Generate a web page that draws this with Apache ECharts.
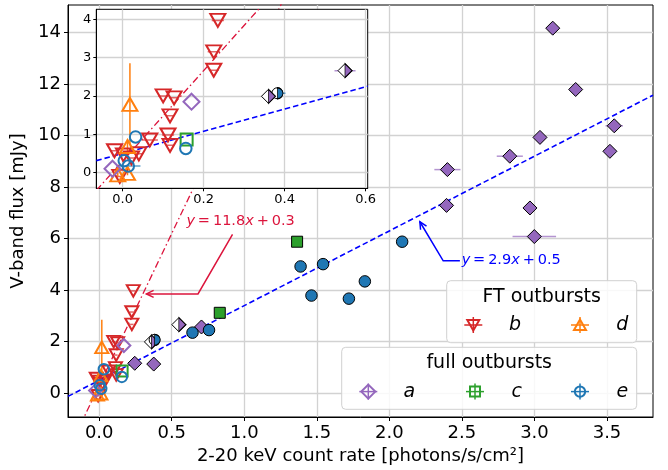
<!DOCTYPE html>
<html>
<head>
<meta charset="utf-8">
<script src="https://cdn.jsdelivr.net/npm/echarts@6/dist/echarts.min.js"></script>
<style>
html, body { margin: 0; padding: 0; background: #fff; }
#chart { width: 668px; height: 470px; }
</style>
</head>
<body>
<div id="chart"></div>
<script>
// Axis ticks
const mainXTicks = [0, 0.5, 1, 1.5, 2, 2.5, 3, 3.5];
const mainYTicks = [0, 2, 4, 6, 8, 10, 12, 14];
const insetXTicks = [0, 0.2, 0.4, 0.6];
const insetYTicks = [0, 1, 2, 3, 4];

// Each point: [count rate, V-band flux, x error, y error]
// FT outbursts
const outburstB = [
  [0.235, 3.97, 0.015, 0],
  [0.225, 3.15, 0.015, 0],
  [0.225, 2.67, 0.012, 0],
  [0.100, 2.00, 0.012, 0],
  [0.127, 1.95, 0.012, 0],
  [0.117, 1.48, 0.010, 0],
  [0.112, 0.98, 0.015, 0],
  [0.067, 0.85, 0.020, 0],
  [0.117, 0.71, 0.010, 0],
  [-0.020, 0.57, 0.010, 0],
  [0.002, 0.46, 0.010, 0],
  [0.040, 0.49, 0.010, 0],
  [0.022, 0.38, 0.010, 0],
  [-0.007, -0.10, 0.010, 0]
];
const outburstD = [
  [0.018, 1.78, 0, 1.07],
  [0.012, 0.68, 0, 0.12],
  [0.012, -0.02, 0, 0.05],
  [-0.012, -0.06, 0, 0.05]
];
// Full outbursts (open markers)
const outburstA = [[0.170, 1.85, 0, 0], [-0.025, 0.10, 0, 0]];
const outburstC = [[0.158, 0.86, 0, 0]];
const outburstE = [
  [0.032, 0.93, 0, 0],
  [0.156, 0.63, 0, 0],
  [0.004, 0.31, 0, 0],
  [0.014, 0.17, 0.03, 0]
];
// Full outbursts (filled markers)
const outburstAFilled = [
  [3.126, 14.17, 0, 0],
  [3.284, 11.79, 0, 0],
  [3.550, 10.38, 0.06, 0],
  [3.038, 9.93, 0, 0],
  [3.520, 9.39, 0, 0],
  [2.830, 9.20, 0.09, 0],
  [2.400, 8.68, 0.09, 0],
  [2.394, 7.29, 0, 0],
  [2.969, 7.19, 0.02, 0],
  [2.999, 6.08, 0.15, 0],
  [0.705, 2.57, 0, 0],
  [0.245, 1.16, 0, 0],
  [0.376, 1.13, 0, 0]
];
const outburstCFilled = [[1.364, 5.88, 0, 0], [0.831, 3.12, 0, 0]];
const outburstEFilled = [
  [0.643, 2.35, 0.01, 0],
  [0.757, 2.45, 0.01, 0],
  [1.388, 4.92, 0.03, 0],
  [1.543, 5.01, 0, 0],
  [1.463, 3.79, 0, 0],
  [1.721, 3.67, 0.02, 0],
  [1.831, 4.34, 0.03, 0],
  [2.088, 5.88, 0, 0]
];
// Half-filled markers
const outburstAHalf = [[0.549, 2.66, 0.026, 0], [0.360, 1.99, 0.01, 0]];
const outburstEHalf = [[0.382, 2.07, 0.02, 0]];

// Linear fits y = slope * x + intercept (FT, full)
const fitSlope = [11.8, 2.9];
const fitIntercept = [0.3, 0.5];

const FONT = 'DejaVu Sans';
const RED = '#d62728', ORANGE = '#ff7f0e', PURPLE = '#9467bd', GREEN = '#2ca02c', BLUE = '#1f77b4';
const CLEAR = 'rgba(0,0,0,0)';

const ranges = [
  { xMin: -0.215, xMax: 3.817, yMin: -0.925, yMax: 15.07 },
  { xMin: -0.065, xMax: 0.605, yMin: -0.41, yMax: 4.26 }
];

function fitLine(k, gi) {
  const r = ranges[gi];
  const pts = [r.xMin, r.xMax].map(x => [x, fitSlope[k] * x + fitIntercept[k]]);
  return {
    type: 'line', xAxisIndex: gi, yAxisIndex: gi, zlevel: gi, z: 3,
    data: pts, symbol: 'none', silent: true, clip: true, animation: false,
    lineStyle: k === 0
      ? { color: '#dc143c', width: 1.3, type: [7, 3, 1.5, 3] }
      : { color: '#0000ff', width: 1.6, type: [5.5, 3] }
  };
}

function errorBars(data, color, gi) {
  return {
    type: 'custom', xAxisIndex: gi, yAxisIndex: gi, zlevel: gi, z: 2,
    silent: true, clip: true, animation: false,
    encode: { x: 0, y: 1 },
    data: data,
    renderItem(params, api) {
      const x = api.value(0), y = api.value(1), ex = api.value(2), ey = api.value(3);
      const kids = [];
      if (ex > 0) {
        const a = api.coord([x - ex, y]), b = api.coord([x + ex, y]);
        kids.push({ type: 'line', shape: { x1: a[0], y1: a[1], x2: b[0], y2: b[1] },
          style: { stroke: color, lineWidth: 1.5, opacity: 0.7 } });
      }
      if (ey > 0) {
        const a = api.coord([x, y - ey]), b = api.coord([x, y + ey]);
        kids.push({ type: 'line', shape: { x1: a[0], y1: a[1], x2: b[0], y2: b[1] },
          style: { stroke: color, lineWidth: 1.5 } });
      }
      return { type: 'group', children: kids };
    }
  };
}

function markers(data, gi, opts) {
  return Object.assign({
    type: 'scatter', xAxisIndex: gi, yAxisIndex: gi, zlevel: gi, z: 4,
    data: data.map(p => [p[0], p[1]]), silent: true, animation: false, clip: true
  }, opts);
}

function openStyle(color) {
  return { color: CLEAR, borderColor: color, borderWidth: 2, opacity: 1 };
}
function filledStyle(color) {
  return { color: color, borderColor: '#000', borderWidth: 1, opacity: 1 };
}

const HALF_DIAMOND = 'path://M0,0L1,1L0,2Z';
const HALF_CIRCLE = 'path://M0,0A1,1,0,0,1,0,2Z';

function buildSeries(gi) {
  const big = gi === 1;
  const tri = big ? [15, 13] : [13, 11.5];
  const dia = big ? 16 : 13;
  const sq = big ? 12 : 11;
  const cir = big ? 11.5 : 10.5;
  const s = [];
  s.push(fitLine(0, gi), fitLine(1, gi));

  if (!big) {
    s.push(errorBars(outburstAFilled, PURPLE, gi));
    s.push(markers(outburstAFilled, gi, { symbol: 'diamond', symbolSize: 14, itemStyle: filledStyle(PURPLE) }));
    s.push(errorBars(outburstEFilled, BLUE, gi));
    s.push(markers(outburstEFilled, gi, { symbol: 'circle', symbolSize: 11.5, itemStyle: filledStyle(BLUE) }));
    s.push(markers(outburstCFilled, gi, { symbol: 'rect', symbolSize: 11, itemStyle: filledStyle(GREEN) }));
  }

  // half-filled markers: white left half, coloured right half
  s.push(errorBars(outburstAHalf, PURPLE, gi));
  s.push(markers(outburstAHalf, gi, { symbol: 'diamond', symbolSize: 14, itemStyle: filledStyle('#fff') }));
  s.push(markers(outburstAHalf, gi, { symbol: HALF_DIAMOND, symbolSize: [7, 14], symbolOffset: [3.5, 0], z: 5, itemStyle: filledStyle(PURPLE) }));
  s.push(errorBars(outburstEHalf, BLUE, gi));
  s.push(markers(outburstEHalf, gi, { symbol: 'circle', symbolSize: 11, itemStyle: filledStyle('#fff') }));
  s.push(markers(outburstEHalf, gi, { symbol: HALF_CIRCLE, symbolSize: [5.5, 11], symbolOffset: [2.75, 0], z: 5, itemStyle: filledStyle(BLUE) }));

  s.push(errorBars(outburstB, RED, gi));
  s.push(markers(outburstB, gi, { symbol: 'triangle', symbolRotate: 180, symbolSize: tri, itemStyle: openStyle(RED) }));
  s.push(errorBars(outburstD, ORANGE, gi));
  s.push(markers(outburstD, gi, { symbol: 'triangle', symbolSize: tri, itemStyle: openStyle(ORANGE) }));
  s.push(markers(outburstA, gi, { symbol: 'diamond', symbolSize: dia, itemStyle: openStyle(PURPLE) }));
  s.push(markers(outburstC, gi, { symbol: 'rect', symbolSize: sq, itemStyle: openStyle(GREEN) }));
  s.push(errorBars(outburstE, BLUE, gi));
  s.push(markers(outburstE, gi, { symbol: 'circle', symbolSize: cir, itemStyle: openStyle(BLUE) }));
  return s;
}

function valueAxis(gi, dim, ticks, fmt, opts) {
  const r = ranges[gi];
  const inset = gi === 1;
  return Object.assign({
    type: 'value', gridIndex: gi, zlevel: gi,
    min: dim === 'x' ? r.xMin : r.yMin,
    max: dim === 'x' ? r.xMax : r.yMax,
    axisLine: { show: true, onZero: false, lineStyle: { color: '#000', width: 1 } },
    axisTick: { show: true, inside: false, length: inset ? 3 : 4, customValues: ticks,
      lineStyle: { color: '#000', width: 1 } },
    axisLabel: { customValues: ticks, formatter: fmt, color: '#000', fontFamily: FONT,
      fontSize: inset ? 13 : 18, margin: inset ? 5 : 7 },
    splitLine: { show: true, lineStyle: { color: '#d2d2d2', width: 1.3 } }
  }, opts);
}

const chart = echarts.init(document.getElementById('chart'), null, { renderer: 'canvas' });

const option = {
  backgroundColor: '#fff',
  animation: false,
  grid: [
    { left: 68, top: 5, right: 15, bottom: 50, show: true, borderColor: '#000', borderWidth: 1, backgroundColor: '#fff', containLabel: false },
    { left: 96.3, top: 9.3, right: 300.3, bottom: 281.7, show: true, borderColor: '#000', borderWidth: 1, backgroundColor: '#fff', zlevel: 1, z: 0, containLabel: false }
  ],
  xAxis: [
    valueAxis(0, 'x', mainXTicks, v => v.toFixed(1), {
      name: '2-20 keV count rate [photons/s/cm²]', nameLocation: 'middle', nameGap: 30,
      nameTextStyle: { fontFamily: FONT, fontSize: 18, color: '#000' }
    }),
    valueAxis(1, 'x', insetXTicks, v => v.toFixed(1))
  ],
  yAxis: [
    valueAxis(0, 'y', mainYTicks, v => String(v), {
      name: 'V-band flux [mJy]', nameLocation: 'middle', nameGap: 35,
      nameTextStyle: { fontFamily: FONT, fontSize: 18, color: '#000' }
    }),
    valueAxis(1, 'y', insetYTicks, v => String(v))
  ],
  series: buildSeries(0).concat(buildSeries(1))
};
chart.setOption(option);

// ---- annotations for the two fits ----
function px(p) { return chart.convertToPixel({ gridIndex: 0 }, p); }

function arrowGraphic(path, color) {
  const pts = path.map(px);
  const tip = pts[pts.length - 1], prev = pts[pts.length - 2];
  const ang = Math.atan2(tip[1] - prev[1], tip[0] - prev[0]);
  const L = 8, spread = 0.45;
  const head = [
    [tip[0] - L * Math.cos(ang - spread), tip[1] - L * Math.sin(ang - spread)],
    tip,
    [tip[0] - L * Math.cos(ang + spread), tip[1] - L * Math.sin(ang + spread)]
  ];
  return [
    { type: 'polyline', z: 20, silent: true, shape: { points: pts }, style: { stroke: color, lineWidth: 1.5, fill: null } },
    { type: 'polyline', z: 20, silent: true, shape: { points: head }, style: { stroke: color, lineWidth: 1.5, fill: null } }
  ];
}

function fitLabel(k, at, color) {
  const p = px(at);
  const t = '\u2009';
  const txt = '{i|y}' + t + '=' + t + fitSlope[k].toFixed(1) + '{i|x}' + t + '+' + t + fitIntercept[k].toFixed(1);
  return {
    type: 'text', z: 20, silent: true, x: p[0], y: p[1],
    style: {
      text: txt, fill: color, fontFamily: FONT, fontSize: 14.5,
      align: 'left', verticalAlign: 'middle',
      rich: { i: { fontStyle: 'italic', fill: color, fontFamily: FONT, fontSize: 14.5 } }
    }
  };
}

// ---- legends ----
function markerGraphic(kind, cx, cy, color) {
  const els = [
    { type: 'line', shape: { x1: cx - 9, y1: cy, x2: cx + 9, y2: cy }, style: { stroke: color, lineWidth: 1.5 } },
    { type: 'line', shape: { x1: cx, y1: cy - 8, x2: cx, y2: cy + 8 }, style: { stroke: color, lineWidth: 1.5 } }
  ];
  const st = { stroke: color, lineWidth: 2, fill: CLEAR };
  if (kind === 'down') els.push({ type: 'polygon', shape: { points: [[cx - 6, cy - 5], [cx + 6, cy - 5], [cx, cy + 5.5]] }, style: st });
  if (kind === 'up') els.push({ type: 'polygon', shape: { points: [[cx - 6, cy + 5], [cx + 6, cy + 5], [cx, cy - 5.5]] }, style: st });
  if (kind === 'diamond') els.push({ type: 'polygon', shape: { points: [[cx, cy - 7], [cx + 7, cy], [cx, cy + 7], [cx - 7, cy]] }, style: st });
  if (kind === 'square') els.push({ type: 'rect', shape: { x: cx - 5, y: cy - 5, width: 10, height: 10 }, style: st });
  if (kind === 'circle') els.push({ type: 'circle', shape: { cx: cx, cy: cy, r: 5.2 }, style: st });
  return { type: 'group', z: 30, silent: true, children: els };
}

function legendBox(x, y, w, h, title, entries) {
  const els = [
    { type: 'rect', shape: { x: x, y: y, width: w, height: h, r: 4 }, style: { fill: 'rgba(255,255,255,0.85)', stroke: '#d0d0d0', lineWidth: 1 } },
    { type: 'text', x: x + w / 2, y: y + 16, style: { text: title, fill: '#000', fontFamily: FONT, fontSize: 19, align: 'center', verticalAlign: 'middle' } }
  ];
  entries.forEach(e => {
    els.push(markerGraphic(e.kind, e.mx, y + 44.3, e.color));
    els.push({ type: 'text', x: e.lx, y: y + 44.3, style: { text: e.label, fill: '#000', fontFamily: FONT, fontSize: 19, fontStyle: 'italic', align: 'center', verticalAlign: 'middle' } });
  });
  return { type: 'group', z: 30, silent: true, children: els };
}

chart.setOption({
  graphic: [
    ...arrowGraphic([[0.919, 6.166], [0.681, 3.853], [0.3255, 3.853]], '#dc143c'),
    fitLabel(0, [0.601, 6.678], '#dc143c'),
    ...arrowGraphic([[2.486, 5.137], [2.371, 5.137], [2.210, 6.655]], '#0000ff'),
    fitLabel(1, [2.498, 5.175], '#0000ff'),
    legendBox(446.7, 280.7, 190, 62, 'FT outbursts', [
      { kind: 'down', mx: 473.3, lx: 515, label: 'b', color: RED },
      { kind: 'up', mx: 580, lx: 622.3, label: 'd', color: ORANGE }
    ]),
    legendBox(341.7, 347.3, 295, 62, 'full outbursts', [
      { kind: 'diamond', mx: 368.3, lx: 409.3, label: 'a', color: PURPLE },
      { kind: 'square', mx: 475, lx: 516.7, label: 'c', color: GREEN },
      { kind: 'circle', mx: 580, lx: 622.3, label: 'e', color: BLUE }
    ])
  ]
});
</script>
</body>
</html>
